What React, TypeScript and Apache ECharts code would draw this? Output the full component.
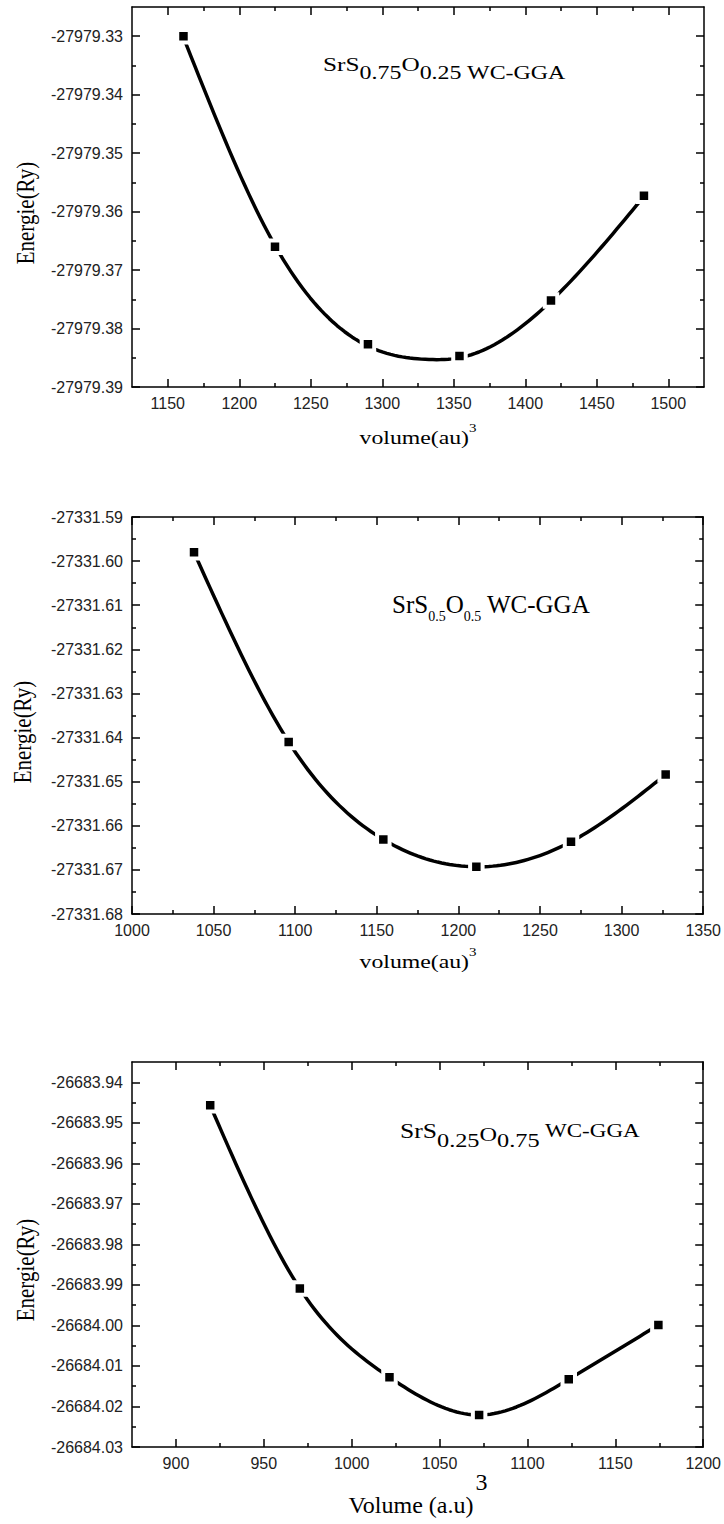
import React, { useEffect, useRef } from 'react';
import * as echarts from 'echarts';

// ---------- Panel 1 : SrS0.75O0.25 ----------
const p1Vol = [1161, 1225, 1290, 1354, 1418, 1483];
const p1E = [-27979.33, -27979.366, -27979.3827, -27979.3847, -27979.3752, -27979.3573];
const p1FitVol = [1161, 1225, 1290, 1333, 1354, 1418, 1483];
const p1FitE = [-27979.3302, -27979.3658, -27979.383, -27979.3853, -27979.385, -27979.3753, -27979.3574];
const p1XLabels = [1150, 1200, 1250, 1300, 1350, 1400, 1450, 1500];
const p1XMinor = [1175, 1225, 1275, 1325, 1375, 1425, 1475];
const p1YLabels = [-27979.33, -27979.34, -27979.35, -27979.36, -27979.37, -27979.38, -27979.39];
const p1YMinor = [-27979.335, -27979.345, -27979.355, -27979.365, -27979.375, -27979.385];

// ---------- Panel 2 : SrS0.5O0.5 ----------
const p2Vol = [1038, 1096, 1154, 1211, 1269, 1327];
const p2E = [-27331.598, -27331.641, -27331.6631, -27331.6693, -27331.6636, -27331.6484];
const p2XLabels = [1000, 1050, 1100, 1150, 1200, 1250, 1300, 1350];
const p2XMinor = [1025, 1075, 1125, 1175, 1225, 1275, 1325];
const p2YLabels = [-27331.59, -27331.6, -27331.61, -27331.62, -27331.63, -27331.64, -27331.65, -27331.66, -27331.67, -27331.68];
const p2YMinor = [-27331.595, -27331.605, -27331.615, -27331.625, -27331.635, -27331.645, -27331.655, -27331.665, -27331.675];

// ---------- Panel 3 : SrS0.25O0.75 ----------
const p3Vol = [919.5, 970.5, 1021.5, 1072.5, 1123.5, 1174.5];
const p3E = [-26683.9457, -26683.9909, -26684.0128, -26684.0221, -26684.0133, -26683.9999];
const p3XLabels = [900, 950, 1000, 1050, 1100, 1150, 1200];
const p3XMinor = [925, 975, 1025, 1075, 1125, 1175];
const p3YLabels = [-26683.94, -26683.95, -26683.96, -26683.97, -26683.98, -26683.99, -26684.0, -26684.01, -26684.02, -26684.03];
const p3YMinor = [-26683.945, -26683.955, -26683.965, -26683.975, -26683.985, -26683.995, -26684.005, -26684.015, -26684.025];

const SANS = 'Liberation Sans, Arial, sans-serif';
const SERIF = 'Liberation Serif, Times New Roman, serif';

const panels = [
  { top: 7, height: 380, xMin: 1125, xMax: 1525, yMin: -27979.39, yMax: -27979.325,
    xL: p1XLabels, xM: p1XMinor, yL: p1YLabels, yM: p1YMinor,
    vol: p1Vol, e: p1E, fitVol: p1FitVol, fitE: p1FitE },
  { top: 517, height: 397, xMin: 1000, xMax: 1350, yMin: -27331.68, yMax: -27331.59,
    xL: p2XLabels, xM: p2XMinor, yL: p2YLabels, yM: p2YMinor,
    vol: p2Vol, e: p2E, fitVol: p2Vol, fitE: p2E },
  { top: 1062, height: 385, xMin: 875, xMax: 1200, yMin: -26684.03, yMax: -26683.935,
    xL: p3XLabels, xM: p3XMinor, yL: p3YLabels, yM: p3YMinor,
    vol: p3Vol, e: p3E, fitVol: p3Vol, fitE: p3E },
];

// natural cubic spline used only to draw a smooth stroke through the read points
function makeSpline(xs: number[], ysRaw: number[]) {
  const n = xs.length;
  const base = ysRaw[0];
  const ys = ysRaw.map((v) => v - base);
  const h: number[] = [];
  for (let i = 0; i < n - 1; i++) h[i] = xs[i + 1] - xs[i];
  const alpha: number[] = [0];
  for (let i = 1; i < n - 1; i++) {
    alpha[i] = (3 / h[i]) * (ys[i + 1] - ys[i]) - (3 / h[i - 1]) * (ys[i] - ys[i - 1]);
  }
  const l = [1], mu = [0], z = [0];
  for (let i = 1; i < n - 1; i++) {
    l[i] = 2 * (xs[i + 1] - xs[i - 1]) - h[i - 1] * mu[i - 1];
    mu[i] = h[i] / l[i];
    z[i] = (alpha[i] - h[i - 1] * z[i - 1]) / l[i];
  }
  const c = new Array(n).fill(0);
  const b: number[] = [];
  const d: number[] = [];
  for (let j = n - 2; j >= 0; j--) {
    c[j] = z[j] - mu[j] * c[j + 1];
    b[j] = (ys[j + 1] - ys[j]) / h[j] - (h[j] * (c[j + 1] + 2 * c[j])) / 3;
    d[j] = (c[j + 1] - c[j]) / (3 * h[j]);
  }
  return (x: number) => {
    let j = 0;
    while (j < n - 2 && x > xs[j + 1]) j++;
    const dx = x - xs[j];
    return base + ys[j] + b[j] * dx + c[j] * dx * dx + d[j] * dx * dx * dx;
  };
}

const axisLineStyle = { color: '#000', width: 1.5 };
const labelStyle = { fontSize: 16, fontFamily: SANS, color: '#222' };

function buildOption() {
  const grid: any[] = [];
  const xAxis: any[] = [];
  const yAxis: any[] = [];
  const series: any[] = [];

  panels.forEach((p, i) => {
    grid.push({ left: 132, right: 20, top: p.top, height: p.height, containLabel: false });
    const mk = (dim: 'x' | 'y', pos: string, major: boolean, withLine: boolean, withLabel: boolean) => {
      const isX = dim === 'x';
      const vals = major ? (isX ? p.xL : p.yL) : (isX ? p.xM : p.yM);
      return {
        gridIndex: i,
        type: 'value',
        position: pos,
        min: isX ? p.xMin : p.yMin,
        max: isX ? p.xMax : p.yMax,
        splitLine: { show: false },
        axisLine: { show: withLine, onZero: false, lineStyle: axisLineStyle },
        axisTick: { show: true, inside: true, length: major ? 8 : 4, customValues: vals, lineStyle: axisLineStyle },
        axisLabel: withLabel
          ? { show: true, customValues: vals, margin: isX ? 8 : 9, ...labelStyle,
              formatter: (v: number) => (isX ? String(Math.round(v)) : v.toFixed(2)) }
          : { show: false },
      };
    };
    xAxis.push(mk('x', 'bottom', true, true, true));
    xAxis.push(mk('x', 'bottom', false, false, false));
    xAxis.push(mk('x', 'top', true, true, false));
    xAxis.push(mk('x', 'top', false, false, false));
    yAxis.push(mk('y', 'left', true, true, true));
    yAxis.push(mk('y', 'left', false, false, false));
    yAxis.push(mk('y', 'right', true, true, false));
    yAxis.push(mk('y', 'right', false, false, false));

    const f = makeSpline(p.fitVol, p.fitE);
    const x0 = p.fitVol[0];
    const x1 = p.fitVol[p.fitVol.length - 1];
    series.push({
      type: 'custom',
      xAxisIndex: i * 4,
      yAxisIndex: i * 4,
      data: p.fitVol.map((v, k) => [v, p.fitE[k]]),
      encode: { x: 0, y: 1 },
      silent: true,
      z: 2,
      renderItem: (params: any, api: any) => {
        if (params.dataIndex !== 0) return null;
        const pts: number[][] = [];
        const N = 120;
        for (let s = 0; s <= N; s++) {
          const xv = x0 + ((x1 - x0) * s) / N;
          pts.push(api.coord([xv, f(xv)]));
        }
        return {
          type: 'polyline',
          shape: { points: pts },
          style: { stroke: '#000', lineWidth: 3.5, fill: null, lineJoin: 'round', lineCap: 'butt' },
        };
      },
    });
    series.push({
      type: 'scatter',
      xAxisIndex: i * 4,
      yAxisIndex: i * 4,
      data: p.vol.map((v, k) => [v, p.e[k]]),
      symbol: 'rect',
      symbolSize: 12.5,
      itemStyle: { color: '#000', borderColor: '#fff', borderWidth: 4, opacity: 1 },
      z: 3,
    });
  });

  const yTitle = (x: number, y: number) => ({
    type: 'text', x, y, rotation: Math.PI / 2, scaleY: 1.2,
    style: { text: 'Energie(Ry)', fontSize: 21, fontFamily: SERIF, fill: '#000', align: 'center', verticalAlign: 'middle' },
  });

  const graphic: any[] = [
    yTitle(25, 213),
    yTitle(22, 732),
    yTitle(25, 1270),
    {
      type: 'text', x: 418, y: 438, scaleX: 1.25,
      style: {
        text: '{a|volume(au)}{s|3}', align: 'center', verticalAlign: 'middle',
        rich: {
          a: { fontSize: 19, fontFamily: SERIF, fill: '#000', verticalAlign: 'middle' },
          s: { fontSize: 12, fontFamily: SERIF, fill: '#000', padding: [0, 0, 20, 0], verticalAlign: 'middle' },
        },
      },
    },
    {
      type: 'text', x: 418, y: 962, scaleX: 1.25,
      style: {
        text: '{a|volume(au)}{s|3}', align: 'center', verticalAlign: 'middle',
        rich: {
          a: { fontSize: 19, fontFamily: SERIF, fill: '#000', verticalAlign: 'middle' },
          s: { fontSize: 12, fontFamily: SERIF, fill: '#000', padding: [0, 0, 20, 0], verticalAlign: 'middle' },
        },
      },
    },
    {
      type: 'text', x: 418, y: 1505,
      style: {
        text: '{a|Volume (a.u)}{s|3}', align: 'center', verticalAlign: 'middle',
        rich: {
          a: { fontSize: 24, fontFamily: SERIF, fill: '#000', verticalAlign: 'middle' },
          s: { fontSize: 24, fontFamily: SERIF, fill: '#000', padding: [0, 0, 46, 2], verticalAlign: 'middle' },
        },
      },
    },
    // annotations
    {
      type: 'text', x: 323, y: 55, scaleX: 1.33,
      style: {
        text: '{a|SrS}{b|0.75}{a|O}{b|0.25 WC-GGA}', align: 'left', verticalAlign: 'top',
        rich: {
          a: { fontSize: 19, fontFamily: SERIF, fill: '#000', padding: [0, 0, 9, 0], verticalAlign: 'middle' },
          b: { fontSize: 18, fontFamily: SERIF, fill: '#000', padding: [9, 0, 0, 0], verticalAlign: 'middle' },
        },
      },
    },
    {
      type: 'text', x: 392, y: 604,
      style: {
        text: '{a|SrS}{s|0.5}{a|O}{s|0.5}{a| WC-GGA}', align: 'left', verticalAlign: 'middle',
        rich: {
          a: { fontSize: 25, fontFamily: SERIF, fill: '#000', verticalAlign: 'middle' },
          s: { fontSize: 14, fontFamily: SERIF, fill: '#000', padding: [25, 0, 0, 0], verticalAlign: 'middle' },
        },
      },
    },
    {
      type: 'text', x: 400, y: 1121, scaleX: 1.28,
      style: {
        text: '{a|SrS}{b|0.25}{o|O}{b|0.75}{w| WC-GGA}', align: 'left', verticalAlign: 'top',
        rich: {
          a: { fontSize: 20, fontFamily: SERIF, fill: '#000', padding: [0, 0, 10, 0], verticalAlign: 'middle' },
          b: { fontSize: 19, fontFamily: SERIF, fill: '#000', padding: [10, 0, 0, 0], verticalAlign: 'middle' },
          o: { fontSize: 19, fontFamily: SERIF, fill: '#000', padding: [4, 0, 6, 0], verticalAlign: 'middle' },
          w: { fontSize: 18, fontFamily: SERIF, fill: '#000', padding: [0, 0, 10, 0], verticalAlign: 'middle' },
        },
      },
    },
  ];

  return {
    animation: false,
    backgroundColor: '#fff',
    grid,
    xAxis,
    yAxis,
    series,
    graphic,
  };
}

export default function App() {
  const ref = useRef<HTMLDivElement>(null);
  useEffect(() => {
    if (!ref.current) return;
    const chart = echarts.init(ref.current, null, { renderer: 'svg' });
    chart.setOption(buildOption() as any);
    return () => chart.dispose();
  }, []);
  return (
    <div
      ref={ref}
      style={{ position: 'absolute', left: 0, top: 0, width: 724, height: 1524, background: '#fff' }}
    />
  );
}
